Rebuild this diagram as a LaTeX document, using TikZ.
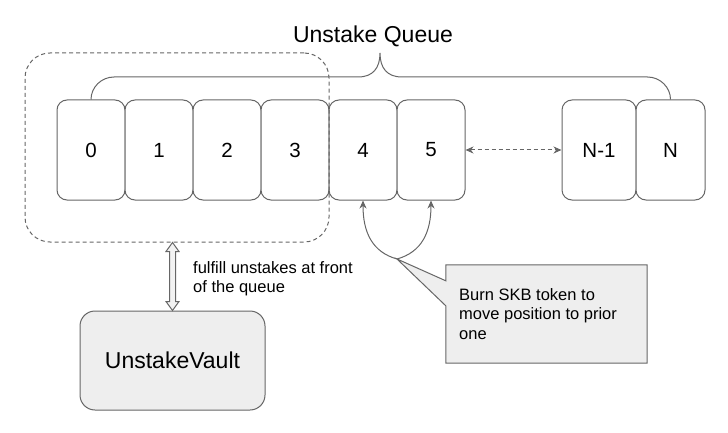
\documentclass[tikz,border=0pt]{standalone}
\usepackage{fontspec}
\setmainfont{Liberation Sans}
\usetikzlibrary{arrows.meta,calc,backgrounds}
\definecolor{lc}{HTML}{666666}
\definecolor{fl}{HTML}{EEEEEE}
\definecolor{al}{HTML}{F2F2F2}
\tikzset{gtip/.tip={Stealth[length=8pt,width=7pt,inset=2.5pt]}}
\begin{document}
\begin{tikzpicture}[x=1pt,y=-1pt,
  ln/.style={draw=lc, line width=1pt},
  qbox/.style={ln, rounded corners=10pt, fill=white, minimum width=68pt, minimum height=100pt, inner sep=0pt, font=\fontsize{20.5}{24}\selectfont},
  bigtext/.style={font=\fontsize{23}{27}\selectfont},
  smalltext/.style={font=\fontsize{16.5}{19.2}\selectfont, align=left, inner sep=0pt}]
\useasboundingbox (0,0) rectangle (728,433);

% title
\node[bigtext, anchor=base] (title) at (373,43) {Unstake Queue};

% queue boxes
\node[qbox] (b0) at (91,150) {0};
\node[qbox] (b1) at (159,150) {1};
\node[qbox] (b2) at (227,150) {2};
\node[qbox] (b3) at (295,150) {3};
\node[qbox] (b4) at (363,150) {4};
\node[qbox] (b5) at (431,150) {5};
\node[qbox, minimum width=74pt] (bn1) at (599,150) {N-1};
\node[qbox, minimum width=69pt] (bn) at (670.5,150) {N};

% brace
\draw[ln] (b0.north) .. controls (91,87.3) and (101.3,77) .. (114,77) -- (358,77)
  .. controls (373,77) and (380,68) .. (380,53)
  .. controls (380,68) and (387,77) .. (402,77) -- (647.5,77)
  .. controls (660.2,77) and (670.5,87.3) .. (bn.north);

% front-of-queue dashed region
\node[ln, dash pattern=on 4pt off 3pt, rounded corners=25pt, minimum width=304pt, minimum height=189pt, inner sep=0pt] (front) at (177,147.5) {};

% dashed gap arrow
\draw[ln, dash pattern=on 4pt off 3pt, gtip-gtip] (b5.east) -- (bn1.west);

% vault
\node[ln, fill=fl, rounded corners=15pt, minimum width=185pt, minimum height=99pt, bigtext] (vault) at (172.5,360.5) {UnstakeVault};

% hollow double arrow
\coordinate (at) at (vault.north |- front.south);
\coordinate (ab) at (vault.north);
\draw[ln, fill=al, line join=miter] (at) -- ($(at)+(6.5,9)$) -- ($(at)+(3,9)$) -- ($(ab)+(3,-9)$) -- ($(ab)+(6.5,-9)$) -- (ab) -- ($(ab)+(-6.5,-9)$) -- ($(ab)+(-3,-9)$) -- ($(at)+(-3,9)$) -- ($(at)+(-6.5,9)$) -- cycle;
\node[smalltext, anchor=north west] (ful) at (193,261) {fulfill unstakes at front\\of the queue};

% callout
\coordinate (pivot) at (397,259);
\node[minimum width=201pt, minimum height=98pt, inner sep=0pt] (callout) at (546.5,314) {};
\node[smalltext, anchor=north west] (ctext) at (459,288.5) {Burn SKB token to\\move position to prior\\one};
\begin{scope}[on background layer]
\draw[ln, fill=fl] (callout.north west) -- (callout.north east) -- (callout.south east) -- (callout.south west) -- ($(callout.north west)+(0,41)$) -- (pivot) -- ($(callout.north west)+(0,16)$) -- cycle;
\end{scope}

% position-moving arrows
\draw[ln, -gtip] (pivot) .. controls (372,252) and (363,232) .. (b4.south);
\draw[ln, -gtip] (pivot) .. controls (422,252) and (431,232) .. (b5.south);
\end{tikzpicture}
\end{document}
